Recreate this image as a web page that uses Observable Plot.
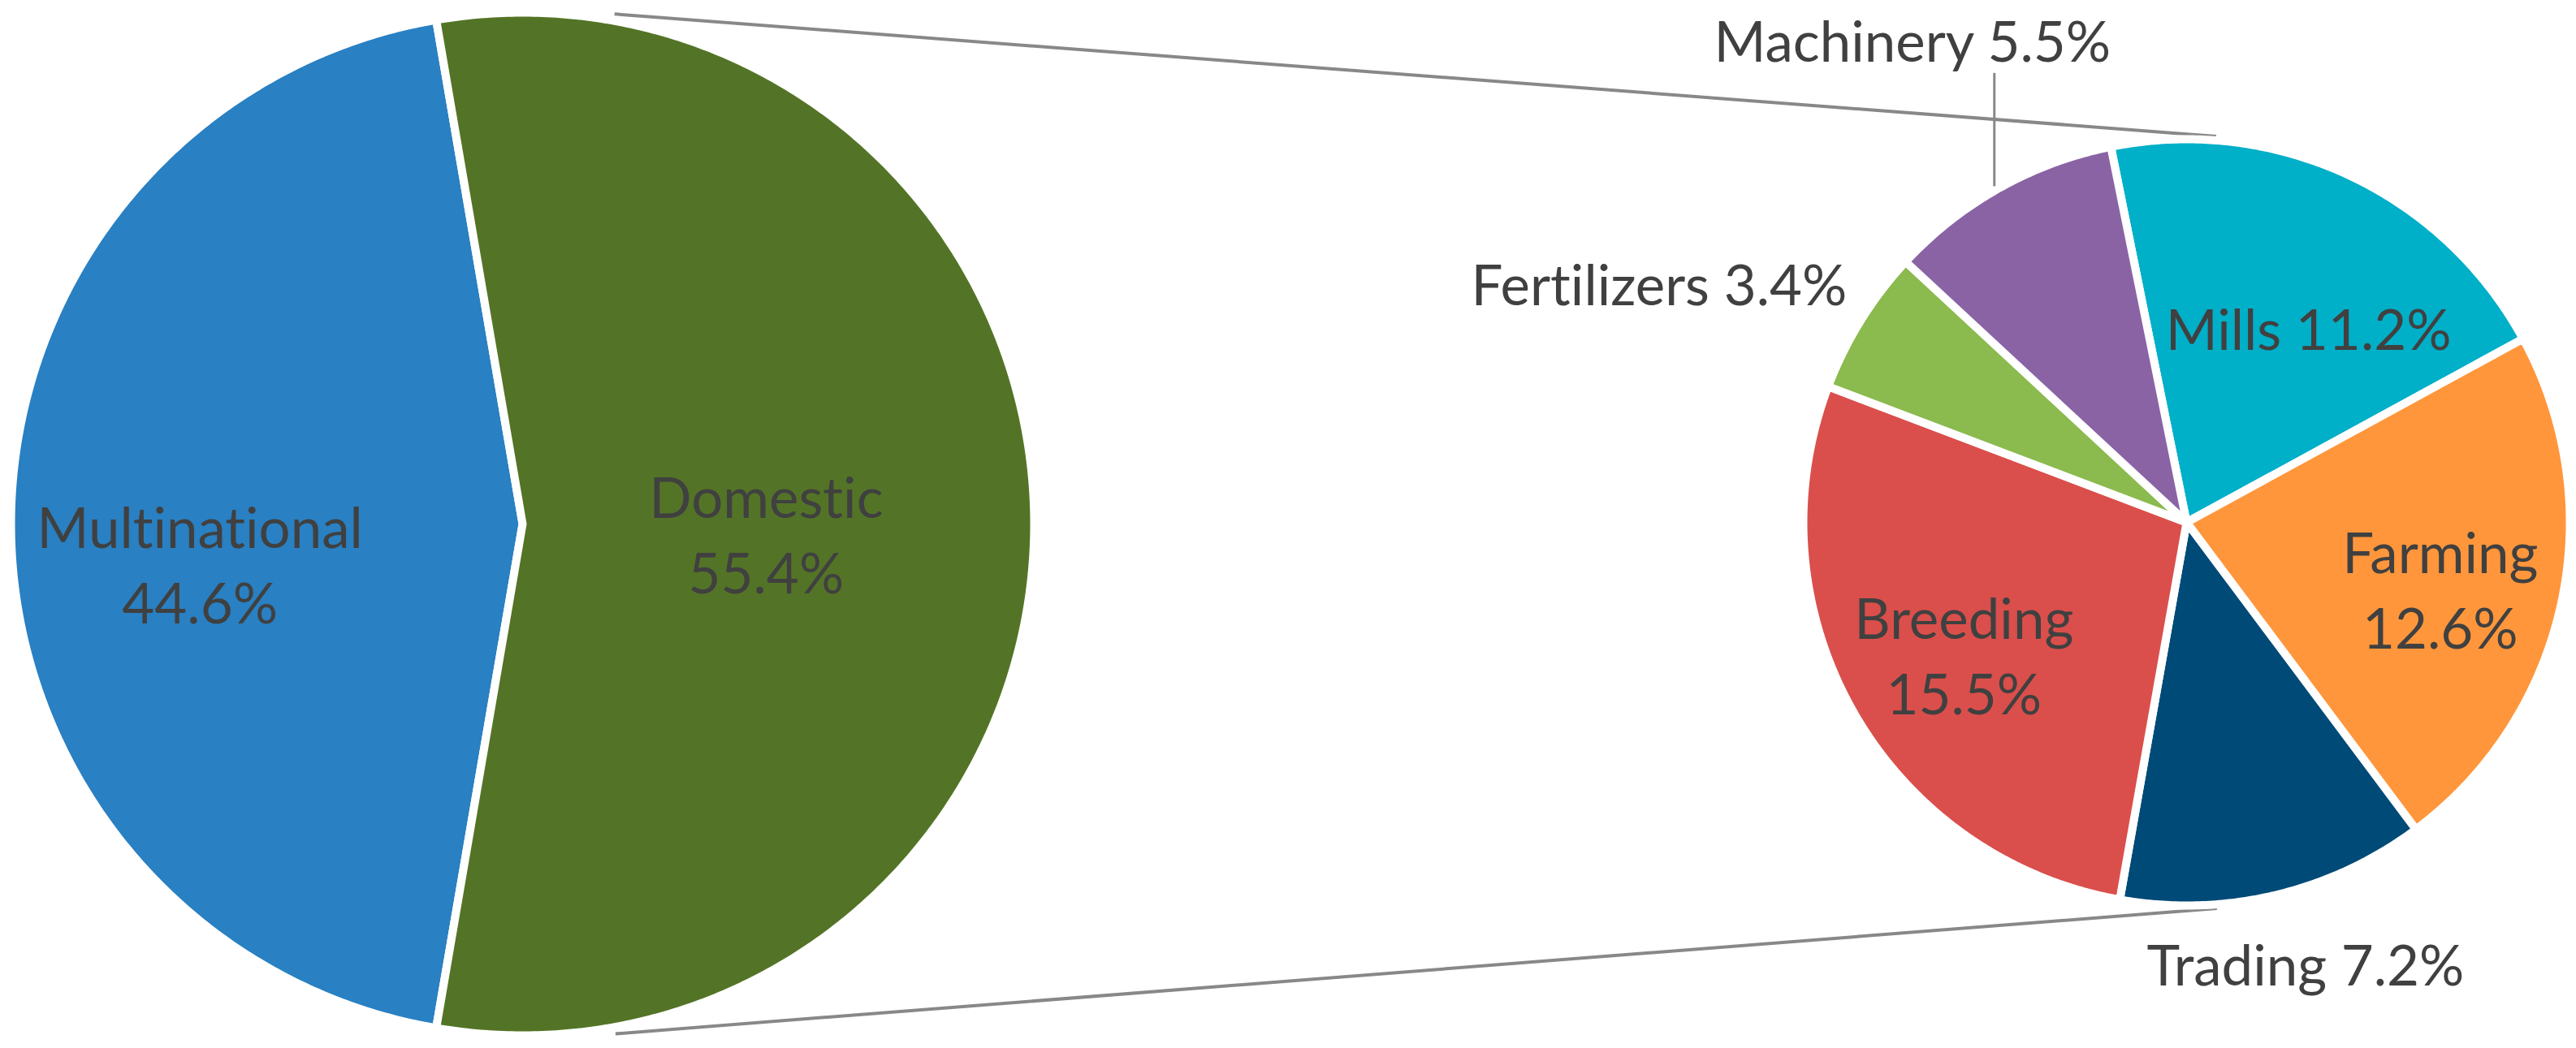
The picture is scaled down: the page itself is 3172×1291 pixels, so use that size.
<!DOCTYPE html>
<html>
<head>
<meta charset="utf-8">
<script src="https://cdn.jsdelivr.net/npm/d3@7"></script>
<script src="https://cdn.jsdelivr.net/npm/@observablehq/plot@0.6"></script>
<style>
  html, body { margin: 0; padding: 0; background: #ffffff; }
  #chart svg { display: block; }
  #chart text { font-variant-ligatures: none; font-feature-settings: "liga" 0, "clig" 0; }
</style>
</head>
<body>
<div id="chart"></div>
<script>
// ---------- data ----------
const mainCategories = ["Multinational", "Domestic"];
const mainValues = [44.6, 55.4];
const subCategories = ["Mills", "Farming", "Trading", "Breeding", "Fertilizers", "Machinery"];
const subValues = [11.2, 12.6, 7.2, 15.5, 3.4, 5.5];
const splitCategory = "Domestic";

// ---------- styles ----------
const mainColors = ["#2980C2", "#537426"];
const subColors = ["#00AFC8", "#FF963B", "#004A77", "#DA4F4B", "#8BBA4E", "#8A63A5"];
const textColor = "#404040";
const lineColor = "#888888";
const fontSize = 69;

// ---------- layout ----------
const W = 3172, H = 1291;
const mainPie = {cx: 643, cy: 645, r: 625};
const subPie = {cx: 2692, cy: 643, r: 467, start: -11.4};
const border = 10;
const connectorGap = 10;
const connectorTrim = 65;
// label placement: radius factor and angular shift (deg) from slice mid-angle
const mainLabelK = [0.64, 0.48];
const mainLabelShift = [-6.6, 1.7];
const mainLabelBreak = [true, true];
const subLabelK = [0.61, 0.69, 1.2, 0.68, 1.53, 1.47];
const subLabelShift = [6.8, 1.9, -1.8, -0.7, -7.2, -0.2];
const subLabelBreak = [false, true, false, true, false, false];

const rad = d => d * Math.PI / 180;
const polar = (pie, ang, R) => [pie.cx + R * Math.sin(rad(ang)), pie.cy - R * Math.cos(rad(ang))];

function slices(cats, vals, pie, start) {
  const total = d3.sum(vals);
  let a = start;
  return cats.map((name, i) => {
    const span = vals[i] / total * 360;
    const s = {name, value: vals[i], a0: a, a1: a + span, mid: a + span / 2, pie};
    a += span;
    return s;
  });
}

// main pie: split category centred at 90 deg (east)
const splitIdx = mainCategories.indexOf(splitCategory);
const mainTotal = d3.sum(mainValues);
const splitSpan = mainValues[splitIdx] / mainTotal * 360;
const mainStart = 90 + splitSpan / 2;
const mainSlices = slices(mainCategories, mainValues, mainPie, mainStart);
const subSlices = slices(subCategories, subValues, subPie, subPie.start);

function polygon(s) {
  const R = s.pie.r + border / 2;
  const n = Math.max(2, Math.ceil((s.a1 - s.a0) / 0.5));
  const pts = [{name: s.name, x: s.pie.cx, y: s.pie.cy}];
  for (let k = 0; k <= n; k++) {
    const [x, y] = polar(s.pie, s.a0 + (s.a1 - s.a0) * k / n, R);
    pts.push({name: s.name, x, y});
  }
  pts.push({name: s.name, x: s.pie.cx, y: s.pie.cy});
  return pts;
}
const slicePoints = [...mainSlices, ...subSlices].flatMap(polygon);

// labels
function labelsFor(sl, K, shift, brk) {
  return sl.map((s, i) => {
    const [x, y] = polar(s.pie, s.mid + shift[i], s.pie.r * K[i]);
    const pct = s.value.toFixed(1) + "%";
    return {x, y, text: s.name + (brk[i] ? "\n" : " ") + pct, name: s.name};
  });
}
const labels = [
  ...labelsFor(mainSlices, mainLabelK, mainLabelShift, mainLabelBreak),
  ...labelsFor(subSlices, subLabelK, subLabelShift, subLabelBreak)
];

// connector lines: external common tangents of the two pies
function tangent(sign) {
  const R1 = mainPie.r + connectorGap, R2 = subPie.r + connectorGap;
  const dx = subPie.cx - mainPie.cx, dy = subPie.cy - mainPie.cy, D = Math.hypot(dx, dy);
  const ux = dx / D, uy = dy / D;
  const a = (R1 - R2) / D, b = Math.sqrt(1 - a * a);
  const px = -uy, py = ux;
  const mx = a * ux + sign * b * px, my = a * uy + sign * b * py;
  const x1 = mainPie.cx + R1 * mx, y1 = mainPie.cy + R1 * my;
  const x2 = subPie.cx + R2 * mx, y2 = subPie.cy + R2 * my;
  const L = Math.hypot(x2 - x1, y2 - y1), t = connectorTrim / L;
  return {x1: x1 + (x2 - x1) * t, y1: y1 + (y2 - y1) * t, x2, y2};
}
const connectors = [tangent(-1), tangent(1)];

// leader line for Machinery label
const mach = labels.find(d => d.name === "Machinery");
const leaderX = mach.x + 101;
const leaders = [{
  x1: leaderX, y1: mach.y + 44,
  x2: leaderX, y2: subPie.cy - Math.sqrt((subPie.r + 10) ** 2 - (leaderX - subPie.cx) ** 2)
}];

const chart = Plot.plot({
  width: W,
  height: H,
  margin: 0,
  style: {background: "#ffffff"},
  x: {domain: [0, W], range: [0, W], axis: null},
  y: {domain: [0, H], range: [0, H], axis: null},
  color: {domain: [...mainCategories, ...subCategories], range: [...mainColors, ...subColors]},
  marks: [
    Plot.link(connectors, {x1: "x1", y1: "y1", x2: "x2", y2: "y2", stroke: lineColor, strokeWidth: 4}),
    Plot.line(slicePoints, {x: "x", y: "y", z: "name", fill: "name", stroke: "#ffffff", strokeWidth: border, strokeLinejoin: "round"}),
    Plot.link(leaders, {x1: "x1", y1: "y1", x2: "x2", y2: "y2", stroke: lineColor, strokeWidth: 3}),
    Plot.text(labels, {x: "x", y: "y", text: "text", fill: textColor, fontSize, fontFamily: "Lato, 'Open Sans', sans-serif", lineHeight: 1.35, textAnchor: "middle"})
  ]
});
document.getElementById("chart").appendChild(chart);
</script>
</body>
</html>
